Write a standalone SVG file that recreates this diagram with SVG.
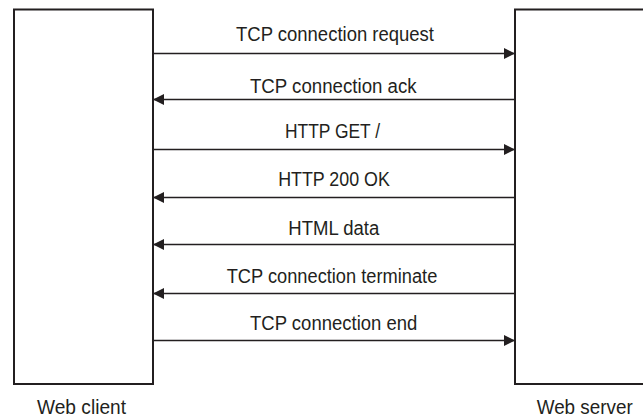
<svg xmlns="http://www.w3.org/2000/svg" width="643" height="416" viewBox="0 0 643 416">
<style>
.box{fill:#fff;stroke:#231f20;stroke-width:2}
.msg{stroke:#231f20;stroke-width:1.4;fill:none;marker-end:url(#ah)}
text{font-family:"Liberation Sans",Arial,sans-serif;font-size:19.5px;fill:#231f20;text-anchor:middle}
</style>
<defs>
<marker id="ah" markerUnits="userSpaceOnUse" markerWidth="12" markerHeight="12" refX="11" refY="5.5" orient="auto">
<path d="M0,0 L11,5.5 L0,11 Z" fill="#231f20"/>
</marker>
</defs>
<rect width="643" height="416" fill="#fff"/>
<g id="client">
<rect class="box" x="14" y="9.5" width="139" height="374.5"/>
<text x="81.5" y="413.5" textLength="89" lengthAdjust="spacingAndGlyphs">Web client</text>
</g>
<g id="server">
<rect class="box" x="515" y="9.5" width="140" height="374.5"/>
<text x="584.7" y="413.5" textLength="96" lengthAdjust="spacingAndGlyphs">Web server</text>
</g>
<g id="connectors">
<line class="msg" x1="153" y1="53.5" x2="515" y2="53.5"/>
<text x="335" y="41" textLength="198" lengthAdjust="spacingAndGlyphs">TCP connection request</text>
<line class="msg" x1="515" y1="99.5" x2="153" y2="99.5"/>
<text x="333.3" y="92.5" textLength="166.7" lengthAdjust="spacingAndGlyphs">TCP connection ack</text>
<line class="msg" x1="153" y1="149.5" x2="515" y2="149.5"/>
<text x="332.5" y="138" textLength="95" lengthAdjust="spacingAndGlyphs">HTTP GET /</text>
<line class="msg" x1="515" y1="197.5" x2="153" y2="197.5"/>
<text x="334" y="186" textLength="111.7" lengthAdjust="spacingAndGlyphs">HTTP 200 OK</text>
<line class="msg" x1="515" y1="244.5" x2="153" y2="244.5"/>
<text x="333.8" y="235" textLength="91" lengthAdjust="spacingAndGlyphs">HTML data</text>
<line class="msg" x1="515" y1="293.5" x2="153" y2="293.5"/>
<text x="332" y="282.5" textLength="210.6" lengthAdjust="spacingAndGlyphs">TCP connection terminate</text>
<line class="msg" x1="153" y1="340.5" x2="515" y2="340.5"/>
<text x="333.7" y="329.5" textLength="167.3" lengthAdjust="spacingAndGlyphs">TCP connection end</text>
</g>
</svg>
